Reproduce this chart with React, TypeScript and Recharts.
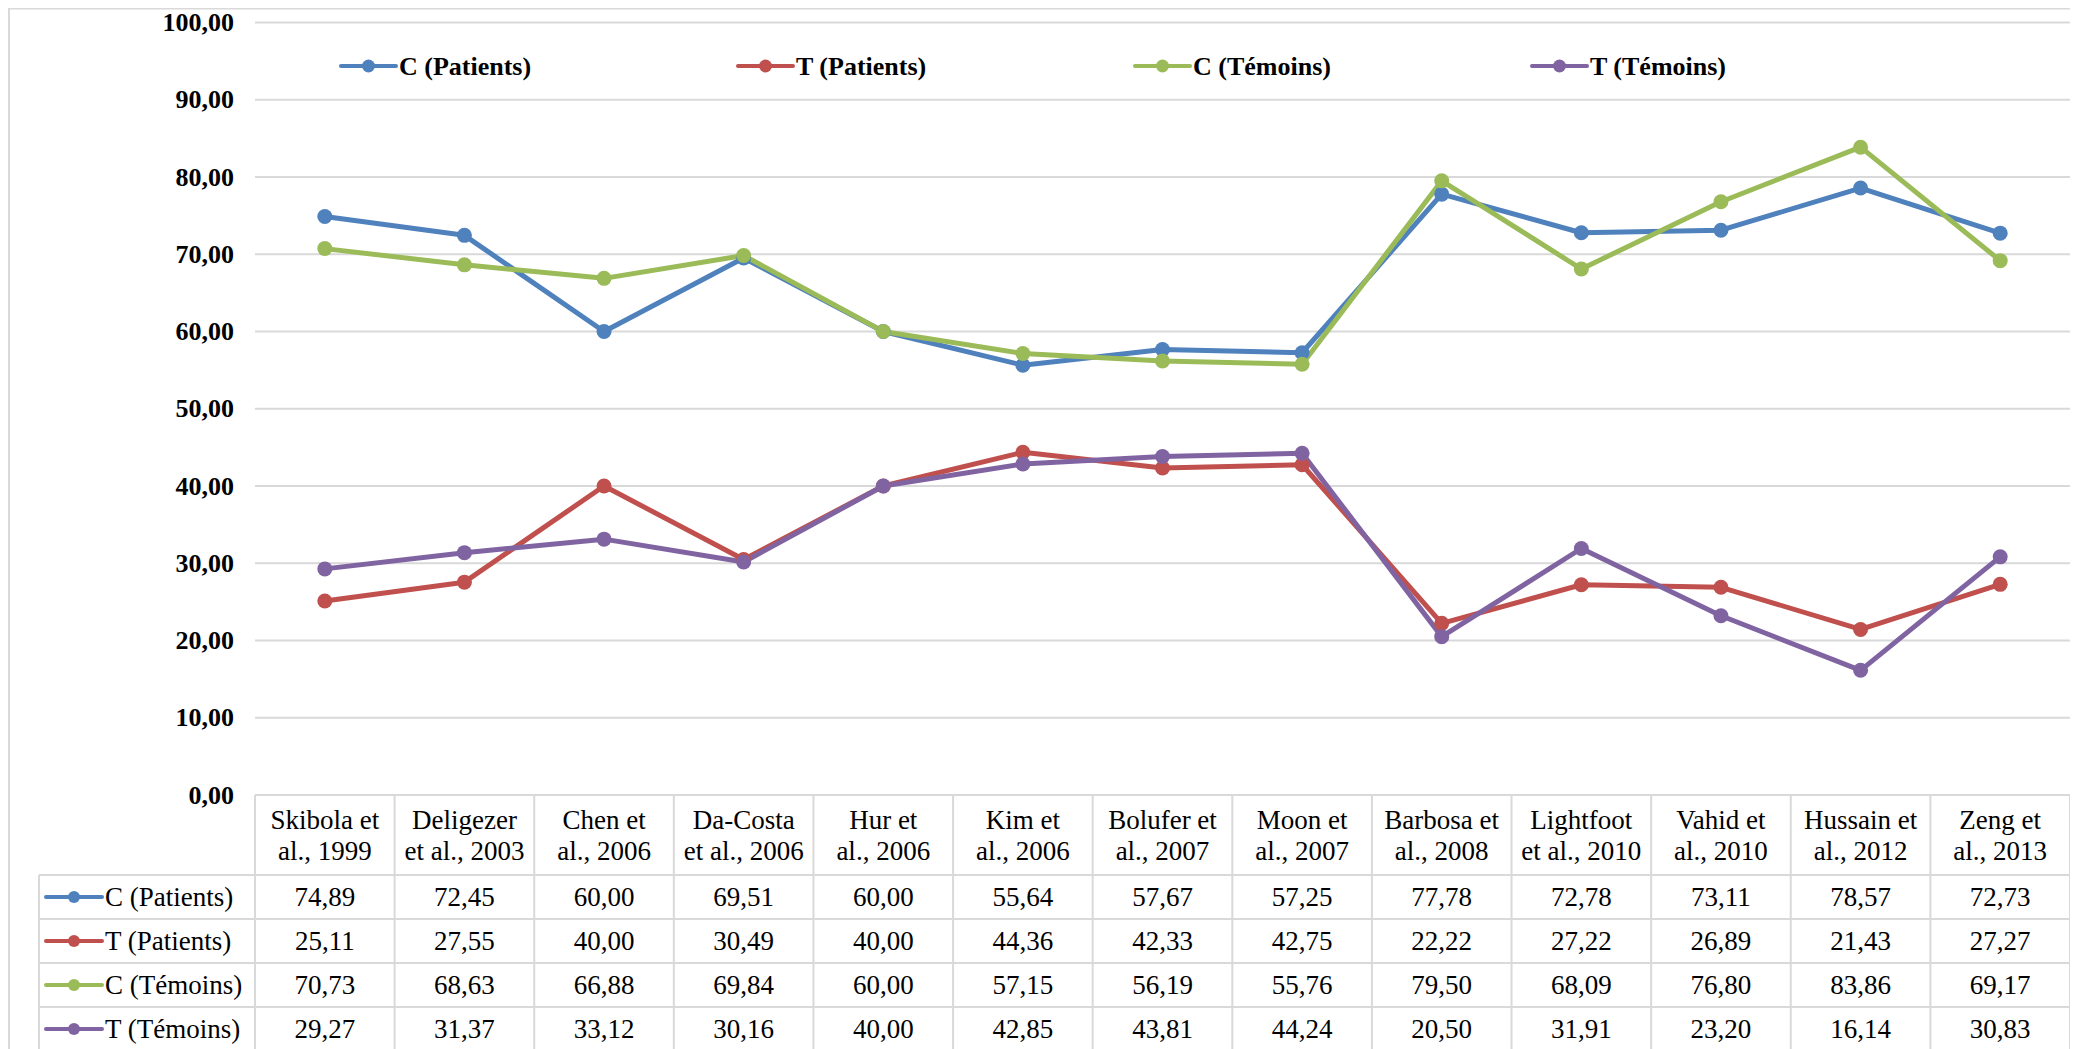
import React from 'react';
import { LineChart, Line, XAxis, YAxis, CartesianGrid } from 'recharts';

// ---------- data ----------
const categories = [
  'Skibola et\nal., 1999',
  'Deligezer\net al., 2003',
  'Chen et\nal., 2006',
  'Da-Costa\net al., 2006',
  'Hur et\nal., 2006',
  'Kim et\nal., 2006',
  'Bolufer et\nal., 2007',
  'Moon et\nal., 2007',
  'Barbosa et\nal., 2008',
  'Lightfoot\net al., 2010',
  'Vahid et\nal., 2010',
  'Hussain et\nal., 2012',
  'Zeng et\nal., 2013',
];
const cPatients = [74.89, 72.45, 60.0, 69.51, 60.0, 55.64, 57.67, 57.25, 77.78, 72.78, 73.11, 78.57, 72.73];
const tPatients = [25.11, 27.55, 40.0, 30.49, 40.0, 44.36, 42.33, 42.75, 22.22, 27.22, 26.89, 21.43, 27.27];
const cTemoins = [70.73, 68.63, 66.88, 69.84, 60.0, 57.15, 56.19, 55.76, 79.5, 68.09, 76.8, 83.86, 69.17];
const tTemoins = [29.27, 31.37, 33.12, 30.16, 40.0, 42.85, 43.81, 44.24, 20.5, 31.91, 23.2, 16.14, 30.83];
const yTicks = [0, 10, 20, 30, 40, 50, 60, 70, 80, 90, 100];

const seriesNames = ['C (Patients)', 'T (Patients)', 'C (Témoins)', 'T (Témoins)'];
const seriesKeys = ['cp', 'tp', 'ct', 'tt'];
const seriesValues = [cPatients, tPatients, cTemoins, tTemoins];
const seriesColors = ['#4F81BD', '#C0504D', '#9BBB59', '#8064A2'];

const data = categories.map((name, i) => {
  const row: any = { name };
  seriesKeys.forEach((k, s) => {
    row[k] = seriesValues[s][i];
  });
  return row;
});

// ---------- layout ----------
if (typeof document !== 'undefined') {
  document.documentElement.style.overflow = 'hidden';
  document.body.style.overflow = 'hidden';
}

const FONT = '"Liberation Serif", "Times New Roman", serif';
const CHART_W = 2066;
const CHART_H = 1041;
const MARGIN = { top: 14.5, right: 4, bottom: 0, left: 0 };
const YAXIS_W = 247;
const PLOT_BOTTOM = 787;
const XAXIS_H = CHART_H - MARGIN.bottom - PLOT_BOTTOM;
const PLOT_LEFT = MARGIN.left + YAXIS_W;
const PLOT_RIGHT = CHART_W - MARGIN.right;
const BAND = (PLOT_RIGHT - PLOT_LEFT) / categories.length;
const GRID = '#D9D9D9';
const HEADER_H = 80;
const ROW_H = 44;
const LEG_COL_LEFT = 31;
const TABLE_FONT = 27;

const fmt = (v: number) => v.toFixed(2).replace('.', ',');

const YTick = (props: any) => {
  const { y, payload } = props;
  return (
    <text
      x={PLOT_LEFT - 21}
      y={y}
      textAnchor="end"
      dominantBaseline="central"
      fontFamily={FONT}
      fontWeight="bold"
      fontSize={26}
      fill="#000"
    >
      {fmt(payload.value)}
    </text>
  );
};

const TableTick = (props: any) => {
  const { x, y, payload } = props;
  const i = payload.index;
  const left = x - BAND / 2;
  const right = x + BAND / 2;
  const lines = String(payload.value).split('\n');
  const bottom = y + HEADER_H + ROW_H * seriesKeys.length + 20;
  return (
    <g>
      {i === 0 && <line x1={left} x2={left} y1={y} y2={bottom} stroke={GRID} strokeWidth={2} />}
      <line x1={right} x2={right} y1={y} y2={bottom} stroke={GRID} strokeWidth={2} />
      {lines.map((ln, k) => (
        <text
          key={k}
          x={x}
          y={y + 25 + k * 31}
          textAnchor="middle"
          dominantBaseline="central"
          fontFamily={FONT}
          fontSize={TABLE_FONT}
          fill="#000"
        >
          {ln}
        </text>
      ))}
      {seriesValues.map((vals, s) => (
        <text
          key={s}
          x={x}
          y={y + HEADER_H + ROW_H * s + ROW_H / 2}
          textAnchor="middle"
          dominantBaseline="central"
          fontFamily={FONT}
          fontSize={TABLE_FONT}
          fill="#000"
        >
          {fmt(vals[i])}
        </text>
      ))}
    </g>
  );
};

const Overlay = () => {
  const rowLines = [];
  for (let r = 0; r <= seriesKeys.length; r++) rowLines.push(PLOT_BOTTOM + HEADER_H + ROW_H * r);
  return (
    <svg
      width={CHART_W}
      height={CHART_H}
      style={{ position: 'absolute', left: 0, top: 0, pointerEvents: 'none' }}
    >
      <rect x={1} y={0.5} width={CHART_W - 2} height={CHART_H + 100} fill="none" stroke={GRID} strokeWidth={2} />
      <line x1={PLOT_LEFT} x2={PLOT_RIGHT} y1={PLOT_BOTTOM} y2={PLOT_BOTTOM} stroke={GRID} strokeWidth={2} />
      {rowLines.map((ry, k) => (
        <line key={k} x1={LEG_COL_LEFT} x2={PLOT_RIGHT} y1={ry} y2={ry} stroke={GRID} strokeWidth={2} />
      ))}
      <line x1={LEG_COL_LEFT} x2={LEG_COL_LEFT} y1={rowLines[0]} y2={CHART_H + 20} stroke={GRID} strokeWidth={2} />
      {seriesNames.map((nm, s) => {
        const cy = PLOT_BOTTOM + HEADER_H + ROW_H * s + ROW_H / 2;
        return (
          <g key={'tl' + s}>
            <line x1={38} x2={94} y1={cy} y2={cy} stroke={seriesColors[s]} strokeWidth={4} strokeLinecap="round" />
            <circle cx={66} cy={cy} r={6} fill={seriesColors[s]} />
            <text x={97} y={cy} dominantBaseline="central" fontFamily={FONT} fontSize={TABLE_FONT} fill="#000">
              {nm}
            </text>
          </g>
        );
      })}
      {seriesNames.map((nm, s) => {
        const gx = 333 + s * 397;
        const cy = 58;
        return (
          <g key={'lg' + s}>
            <line x1={gx} x2={gx + 55} y1={cy} y2={cy} stroke={seriesColors[s]} strokeWidth={4} strokeLinecap="round" />
            <circle cx={gx + 27.5} cy={cy} r={6.5} fill={seriesColors[s]} />
            <text x={gx + 58} y={cy} dominantBaseline="central" fontFamily={FONT} fontWeight="bold" fontSize={26} fill="#000">
              {nm}
            </text>
          </g>
        );
      })}
    </svg>
  );
};

export default function App() {
  return (
    <div style={{ position: 'relative', width: CHART_W, height: CHART_H, overflow: 'hidden', background: '#fff' }}>
      <LineChart width={CHART_W} height={CHART_H} data={data} margin={MARGIN}>
        <CartesianGrid horizontal vertical={false} stroke={GRID} strokeWidth={2} />
        <XAxis
          dataKey="name"
          interval={0}
          height={XAXIS_H}
          axisLine={false}
          tickLine={false}
          tickSize={0}
          tickMargin={0}
          padding={{ left: BAND / 2, right: BAND / 2 }}
          tick={(p: any) => <TableTick {...p} />}
        />
        <YAxis
          width={YAXIS_W}
          domain={[0, 100]}
          ticks={yTicks}
          interval={0}
          axisLine={false}
          tickLine={false}
          tick={(p: any) => <YTick {...p} />}
        />
        {seriesKeys.map((k, s) => (
          <Line
            key={k}
            type="linear"
            dataKey={k}
            name={seriesNames[s]}
            stroke={seriesColors[s]}
            strokeWidth={5}
            strokeLinejoin="round"
            dot={{ r: 7.5, fill: seriesColors[s], stroke: seriesColors[s], strokeWidth: 0 }}
            activeDot={false}
            isAnimationActive={false}
          />
        ))}
      </LineChart>
      <Overlay />
    </div>
  );
}
